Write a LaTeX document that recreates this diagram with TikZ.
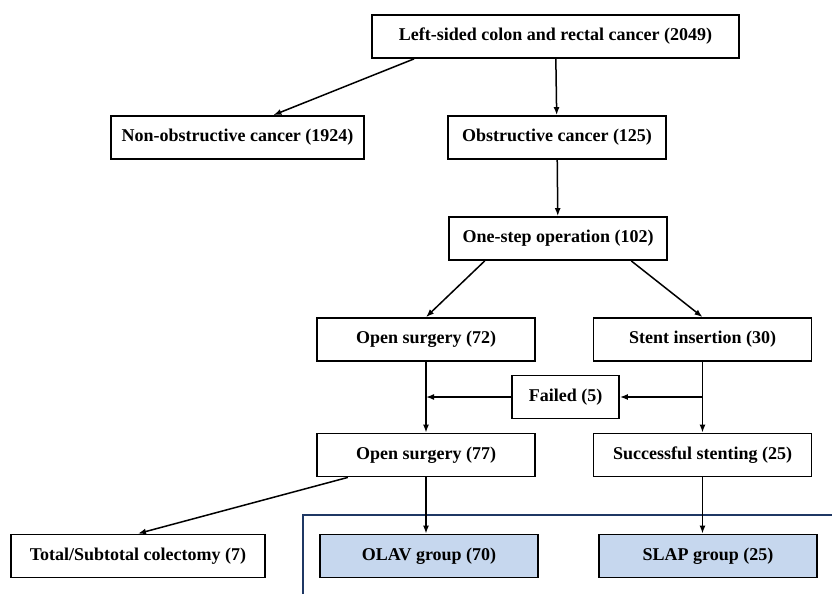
\documentclass[tikz,border=0pt]{standalone}
\usepackage{fontspec}
\setmainfont{Liberation Serif}
\usetikzlibrary{positioning,arrows.meta}
\definecolor{framenavy}{HTML}{1F3864}
\definecolor{groupblue}{HTML}{C6D7EE}
\tikzset{
  box/.style={draw,line width=1.8pt,minimum height=43pt,minimum width=218pt,inner sep=2pt,
    font=\fontsize{18}{21}\selectfont\bfseries},
  groupbox/.style={box,fill=groupblue},
}
\begin{document}
\begin{tikzpicture}[>={Latex[length=8pt,width=6pt]},line width=1.5pt,node distance=101pt]
    \useasboundingbox (0,0) rectangle (832pt,-594pt);
    % framed study groups
    \draw[framenavy,line width=2.4pt] (303pt,-594pt) -- (303pt,-515pt) -- (833pt,-515pt);

    \node [box,minimum width=367pt] (1) at (555.5pt,-36.5pt) {Left-sided colon and rectal cancer (2049)};
    \node [box,minimum width=253pt,below of=1,xshift=-318pt] (2) {Non-obstructive cancer (1924)};
    \node [box,below of=1,xshift=1.5pt] (3) {Obstructive cancer (125)};
    \node [box,below of=3,xshift=1pt] (4) {One-step operation (102)};
    \node [box,below of=4,xshift=-132pt] (5) {Open surgery (72)};
    \node [box,below of=4,xshift=144.5pt] (6) {Stent insertion (30)};
    \node [box,minimum width=107pt,node distance=57.5pt,below of=5,xshift=139.5pt] (7) {Failed (5)};
    \node [box,node distance=115.5pt,below of=5] (8) {Open surgery (77)};
    \node [box,node distance=115.5pt,below of=6] (9) {Successful stenting (25)};
    \node [box,minimum width=254pt,below of=8,xshift=-288pt] (10) {Total/Subtotal colectomy (7)};
    \node [groupbox,below of=8,xshift=3pt] (11) {OLAV group (70)};
    \node [groupbox,below of=9,xshift=5.5pt] (12) {SLAP group (25)};

    \draw[->] (1.189) -- (2.32);
    \draw[->] (1) -- (3);
    \draw[->] (3) -- (4);
    \draw[->] (4.197) -- (5.north);
    \draw[->] (4.343) -- (6.north);
    \draw[->] (5) -- (8);
    \draw[->] (6) -- (9);
    \draw[->] (6.south |- 7) -- (7);
    \draw[->] (7) -- (5.south |- 7);
    \draw[->] (8.196) -- (10.north);
    \draw[->] (8.south) -- (8.south |- 11.north);
    \draw[->] (9.south) -- (9.south |- 12.north);

  \end{tikzpicture}
\end{document}
